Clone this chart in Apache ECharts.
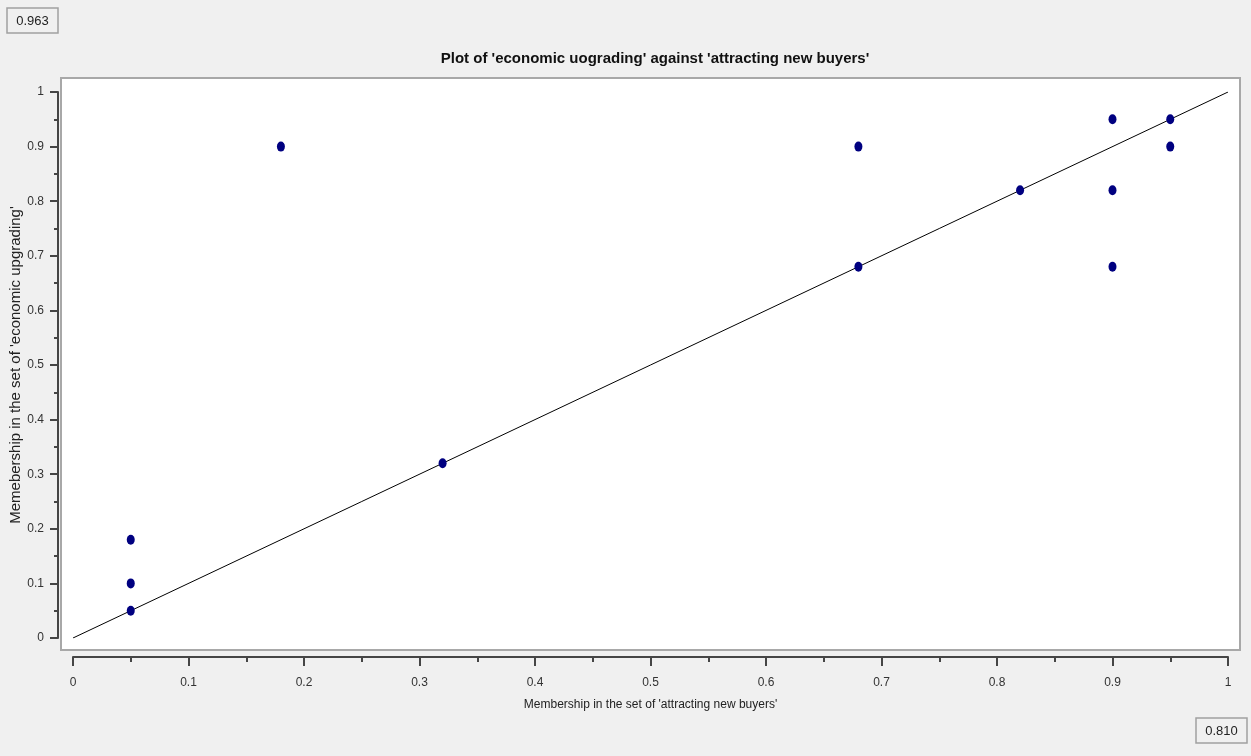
<!DOCTYPE html>
<html><head><meta charset="utf-8">
<script src="https://cdn.jsdelivr.net/npm/echarts@6/dist/echarts.min.js"></script>
<style>html,body{margin:0;padding:0;background:#f0f0f0}#c{width:1251px;height:756px}</style>
</head><body><div id="c"></div>
<script>
const titleText = "Plot of 'economic uograding' against 'attracting new buyers'";
const xAxisName = "Membership in the set of 'attracting new buyers'";
const yAxisName = "Memebership in the set of 'economic upgrading'";
const xValues = [0.05, 0.05, 0.05, 0.18, 0.32, 0.68, 0.68, 0.82, 0.90, 0.90, 0.90, 0.95, 0.95];
const yValues = [0.05, 0.10, 0.18, 0.90, 0.32, 0.90, 0.68, 0.82, 0.95, 0.82, 0.68, 0.95, 0.90];
const diagX = [0, 1];
const diagY = [0, 1];
const topLeftValue = "0.963";
const bottomRightValue = "0.810";

const points = xValues.map((x, i) => [x, yValues[i]]);
const diag = diagX.map((x, i) => [x, diagY[i]]);

const chart = echarts.init(document.getElementById('c'));
const font = "'Liberation Sans', Arial, sans-serif";
const axisCommon = {
  type: 'value', min: 0, max: 1, interval: 0.1,
  axisLine: { show: true, onZero: false, lineStyle: { color: '#454545', width: 2 } },
  axisTick: { show: true, length: 8, lineStyle: { color: '#454545', width: 2 } },
  minorTick: { show: true, splitNumber: 2, length: 4, lineStyle: { color: '#454545', width: 2 } },
  splitLine: { show: false },
  axisLabel: { color: '#333', fontFamily: font, fontSize: 12, formatter: v => String(Math.round(v * 10) / 10) },
  nameTextStyle: { color: '#222', fontFamily: font, fontSize: 12 },
  nameLocation: 'middle'
};
chart.setOption({
  backgroundColor: '#f0f0f0',
  animation: false,
  title: {
    text: titleText, left: 650, top: 46, textAlign: 'center',
    textStyle: { fontFamily: font, fontSize: 15, fontWeight: 'bold', color: '#111' }
  },
  graphic: [
    { type: 'rect', z: -1, shape: { x: 61, y: 78, width: 1179, height: 572 },
      style: { fill: '#ffffff', stroke: '#a8a8a8', lineWidth: 2 } },
    { type: 'rect', shape: { x: 7, y: 8, width: 51, height: 25 },
      style: { fill: '#f0f0f0', stroke: '#a0a0a0', lineWidth: 1.5 } },
    { type: 'text', x: 32.5, y: 21,
      style: { text: topLeftValue, fill: '#222', font: "13px 'Liberation Sans', Arial, sans-serif", textAlign: 'center', textVerticalAlign: 'middle' } },
    { type: 'rect', shape: { x: 1196, y: 718, width: 51, height: 25 },
      style: { fill: '#f0f0f0', stroke: '#a0a0a0', lineWidth: 1.5 } },
    { type: 'text', x: 1221.5, y: 731,
      style: { text: bottomRightValue, fill: '#222', font: "13px 'Liberation Sans', Arial, sans-serif", textAlign: 'center', textVerticalAlign: 'middle' } }
  ],
  grid: { left: 73, right: 23, top: 92, bottom: 118, outerBoundsMode: 'none', containLabel: false },
  xAxis: Object.assign({}, axisCommon, {
    offset: 19, name: xAxisName, nameGap: 42,
    minorTick: Object.assign({}, axisCommon.minorTick, { length: 5 }),
    axisTick: Object.assign({}, axisCommon.axisTick, { length: 9 }),
    axisLabel: Object.assign({}, axisCommon.axisLabel, { margin: 20 })
  }),
  yAxis: Object.assign({}, axisCommon, {
    offset: 15, name: yAxisName, nameGap: 35, nameMoveOverlap: false,
    nameTextStyle: Object.assign({}, axisCommon.nameTextStyle, { fontSize: 15 }),
    axisLabel: Object.assign({}, axisCommon.axisLabel, { margin: 14 })
  }),
  series: [
    { type: 'line', data: diag, symbol: 'none', silent: true,
      lineStyle: { color: '#000', width: 1 }, z: 2 },
    { type: 'scatter', data: points, symbol: 'circle', symbolSize: [8, 10],
      itemStyle: { color: '#000080', opacity: 1 }, z: 3 }
  ]
});
</script></body></html>
